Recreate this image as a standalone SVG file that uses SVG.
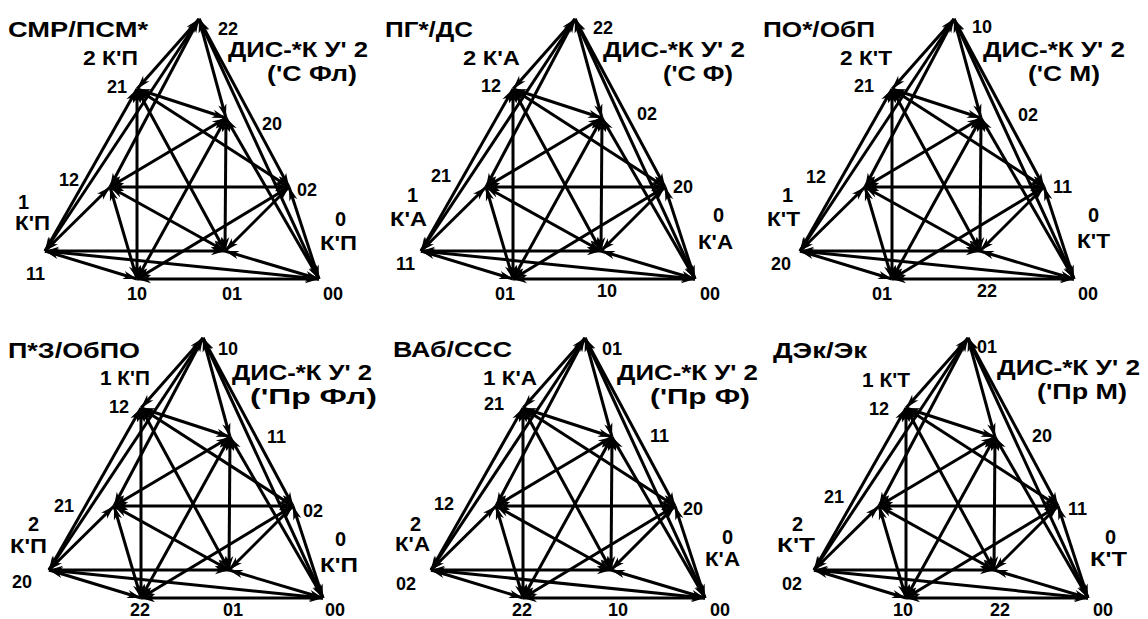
<svg xmlns="http://www.w3.org/2000/svg" xmlns:xlink="http://www.w3.org/1999/xlink" width="1148" height="619" viewBox="0 0 1148 619">
<style>
text{font-family:"Liberation Sans",Arial,sans-serif;font-weight:bold;fill:#000}
.t{font-size:22px}
.k{font-size:20px}
.n{font-size:18px}
.e{stroke:#000;stroke-width:3;fill:none;marker-start:url(#ah);marker-end:url(#ah)}
</style>
<defs>
<marker id="ah" viewBox="-15 -5 16 10" refX="0" refY="0" markerWidth="16" markerHeight="10" markerUnits="userSpaceOnUse" orient="auto-start-reverse" overflow="visible">
<path d="M0,0 L-14,-4.2 L-10,0 L-14,4.2 Z" fill="#000"/>
</marker>
<g id="graph">
<line class="e" x1="199" y1="19" x2="137" y2="89"/>
<line class="e" x1="199" y1="19" x2="226" y2="118"/>
<line class="e" x1="199" y1="19" x2="110" y2="187"/>
<line class="e" x1="199" y1="19" x2="289" y2="187"/>
<line class="e" x1="199" y1="19" x2="45" y2="251"/>
<line class="e" x1="199" y1="19" x2="319" y2="279"/>
<line class="e" x1="137" y1="89" x2="226" y2="118"/>
<line class="e" x1="137" y1="89" x2="289" y2="187"/>
<line class="e" x1="137" y1="89" x2="45" y2="251"/>
<line class="e" x1="137" y1="89" x2="225" y2="251"/>
<line class="e" x1="137" y1="89" x2="137" y2="279"/>
<line class="e" x1="226" y1="118" x2="110" y2="187"/>
<line class="e" x1="226" y1="118" x2="225" y2="251"/>
<line class="e" x1="226" y1="118" x2="137" y2="279"/>
<line class="e" x1="226" y1="118" x2="319" y2="279"/>
<line class="e" x1="110" y1="187" x2="289" y2="187"/>
<line class="e" x1="110" y1="187" x2="45" y2="251"/>
<line class="e" x1="110" y1="187" x2="225" y2="251"/>
<line class="e" x1="110" y1="187" x2="137" y2="279"/>
<line class="e" x1="289" y1="187" x2="225" y2="251"/>
<line class="e" x1="289" y1="187" x2="137" y2="279"/>
<line class="e" x1="289" y1="187" x2="319" y2="279"/>
<line class="e" x1="45" y1="251" x2="225" y2="251"/>
<line class="e" x1="45" y1="251" x2="137" y2="279"/>
<line class="e" x1="45" y1="251" x2="319" y2="279"/>
<line class="e" x1="225" y1="251" x2="319" y2="279"/>
<line class="e" x1="137" y1="279" x2="319" y2="279"/>
</g>
</defs>
<rect width="1148" height="619" fill="#fff"/>
<g id="connectors">
<use xlink:href="#graph" href="#graph"/>
<use xlink:href="#graph" href="#graph" transform="translate(376,0)"/>
<use xlink:href="#graph" href="#graph" transform="translate(755,0)"/>
<use xlink:href="#graph" href="#graph" transform="translate(4,319)"/>
<use xlink:href="#graph" href="#graph" transform="translate(386,319)"/>
<use xlink:href="#graph" href="#graph" transform="translate(769,319)"/>
</g>

<g id="d1">
<text class="t" x="8" y="37" textLength="140" lengthAdjust="spacingAndGlyphs">СМР/ПСМ*</text>
<text class="k" x="83" y="65" textLength="55" lengthAdjust="spacingAndGlyphs">2 К'П</text>
<text class="t" x="228" y="57" textLength="140" lengthAdjust="spacingAndGlyphs">ДИС-*К У' 2</text>
<text class="t" x="267" y="81" textLength="90" lengthAdjust="spacingAndGlyphs">('С Фл)</text>
<text class="k" x="18" y="209">1</text>
<text class="k" x="15" y="230" textLength="35" lengthAdjust="spacingAndGlyphs">К'П</text>
<text class="k" x="335" y="226">0</text>
<text class="k" x="320" y="250" textLength="37" lengthAdjust="spacingAndGlyphs">К'П</text>
<g id="d1-n22"><text class="n" x="218" y="35">22</text></g>
<g id="d1-n21"><text class="n" x="107" y="93">21</text></g>
<g id="d1-n20"><text class="n" x="262" y="130">20</text></g>
<g id="d1-n12"><text class="n" x="59" y="186">12</text></g>
<g id="d1-n02"><text class="n" x="297" y="196">02</text></g>
<g id="d1-n11"><text class="n" x="26" y="280">11</text></g>
<g id="d1-n10"><text class="n" x="127" y="300">10</text></g>
<g id="d1-n01"><text class="n" x="222" y="300">01</text></g>
<g id="d1-n00"><text class="n" x="323" y="300">00</text></g>
</g>

<g id="d2">
<text class="t" x="385" y="37" textLength="88" lengthAdjust="spacingAndGlyphs">ПГ*/ДС</text>
<text class="k" x="463" y="65" textLength="57" lengthAdjust="spacingAndGlyphs">2  К'А</text>
<text class="t" x="603" y="57" textLength="142" lengthAdjust="spacingAndGlyphs">ДИС-*К У' 2</text>
<text class="t" x="663" y="81" textLength="70" lengthAdjust="spacingAndGlyphs">('С Ф)</text>
<text class="k" x="407" y="202">1</text>
<text class="k" x="390" y="226" textLength="37" lengthAdjust="spacingAndGlyphs">К'А</text>
<text class="k" x="713" y="222">0</text>
<text class="k" x="698" y="249" textLength="35" lengthAdjust="spacingAndGlyphs">К'А</text>
<g id="d2-n22"><text class="n" x="593" y="34">22</text></g>
<g id="d2-n12"><text class="n" x="481" y="92">12</text></g>
<g id="d2-n02"><text class="n" x="637" y="120">02</text></g>
<g id="d2-n21"><text class="n" x="431" y="182">21</text></g>
<g id="d2-n20"><text class="n" x="673" y="193">20</text></g>
<g id="d2-n11"><text class="n" x="396" y="270">11</text></g>
<g id="d2-n01"><text class="n" x="495" y="300">01</text></g>
<g id="d2-n10"><text class="n" x="597" y="297">10</text></g>
<g id="d2-n00"><text class="n" x="700" y="300">00</text></g>
</g>

<g id="d3">
<text class="t" x="763" y="37" textLength="112" lengthAdjust="spacingAndGlyphs">ПО*/ОбП</text>
<text class="k" x="840" y="65" textLength="52" lengthAdjust="spacingAndGlyphs">2 К'Т</text>
<text class="t" x="983" y="57" textLength="142" lengthAdjust="spacingAndGlyphs">ДИС-*К У' 2</text>
<text class="t" x="1028" y="81" textLength="72" lengthAdjust="spacingAndGlyphs">('С М)</text>
<text class="k" x="782" y="202">1</text>
<text class="k" x="767" y="226" textLength="33" lengthAdjust="spacingAndGlyphs">К'Т</text>
<text class="k" x="1088" y="222">0</text>
<text class="k" x="1077" y="248" textLength="33" lengthAdjust="spacingAndGlyphs">К'Т</text>
<g id="d3-n10"><text class="n" x="972" y="33">10</text></g>
<g id="d3-n21"><text class="n" x="854" y="92">21</text></g>
<g id="d3-n02"><text class="n" x="1018" y="121">02</text></g>
<g id="d3-n12"><text class="n" x="806" y="183">12</text></g>
<g id="d3-n11"><text class="n" x="1053" y="193">11</text></g>
<g id="d3-n20"><text class="n" x="771" y="270">20</text></g>
<g id="d3-n01"><text class="n" x="872" y="300">01</text></g>
<g id="d3-n22"><text class="n" x="977" y="297">22</text></g>
<g id="d3-n00"><text class="n" x="1078" y="300">00</text></g>
</g>

<g id="d4">
<text class="t" x="8" y="358" textLength="132" lengthAdjust="spacingAndGlyphs">П*З/ОбПО</text>
<text class="k" x="100" y="385" textLength="50" lengthAdjust="spacingAndGlyphs">1 К'П</text>
<text class="t" x="232" y="380" textLength="140" lengthAdjust="spacingAndGlyphs">ДИС-*К У' 2</text>
<text class="t" x="250" y="404" textLength="127" lengthAdjust="spacingAndGlyphs">('Пр Фл)</text>
<text class="k" x="28" y="531">2</text>
<text class="k" x="10" y="553" textLength="37" lengthAdjust="spacingAndGlyphs">К'П</text>
<text class="k" x="335" y="546">0</text>
<text class="k" x="320" y="572" textLength="38" lengthAdjust="spacingAndGlyphs">К'П</text>
<g id="d4-n10"><text class="n" x="218" y="355">10</text></g>
<g id="d4-n12"><text class="n" x="109" y="413">12</text></g>
<g id="d4-n11"><text class="n" x="267" y="443">11</text></g>
<g id="d4-n21"><text class="n" x="54" y="512">21</text></g>
<g id="d4-n02"><text class="n" x="303" y="517">02</text></g>
<g id="d4-n20"><text class="n" x="12" y="588">20</text></g>
<g id="d4-n22"><text class="n" x="130" y="616">22</text></g>
<g id="d4-n01"><text class="n" x="223" y="616">01</text></g>
<g id="d4-n00"><text class="n" x="325" y="616">00</text></g>
</g>

<g id="d5">
<text class="t" x="393" y="357" textLength="119" lengthAdjust="spacingAndGlyphs">ВАб/ССС</text>
<text class="k" x="483" y="385" textLength="54" lengthAdjust="spacingAndGlyphs">1 К'А</text>
<text class="t" x="617" y="380" textLength="141" lengthAdjust="spacingAndGlyphs">ДИС-*К У' 2</text>
<text class="t" x="650" y="404" textLength="100" lengthAdjust="spacingAndGlyphs">('Пр Ф)</text>
<text class="k" x="410" y="531">2</text>
<text class="k" x="395" y="551" textLength="35" lengthAdjust="spacingAndGlyphs">К'А</text>
<text class="k" x="722" y="544">0</text>
<text class="k" x="705" y="566" textLength="35" lengthAdjust="spacingAndGlyphs">К'А</text>
<g id="d5-n01"><text class="n" x="602" y="355">01</text></g>
<g id="d5-n21"><text class="n" x="484" y="410">21</text></g>
<g id="d5-n11"><text class="n" x="650" y="442">11</text></g>
<g id="d5-n12"><text class="n" x="434" y="510">12</text></g>
<g id="d5-n20"><text class="n" x="683" y="515">20</text></g>
<g id="d5-n02"><text class="n" x="396" y="590">02</text></g>
<g id="d5-n22"><text class="n" x="512" y="616">22</text></g>
<g id="d5-n10"><text class="n" x="608" y="616">10</text></g>
<g id="d5-n00"><text class="n" x="710" y="616">00</text></g>
</g>

<g id="d6">
<text class="t" x="773" y="358" textLength="94" lengthAdjust="spacingAndGlyphs">ДЭк/Эк</text>
<text class="k" x="862" y="387" textLength="48" lengthAdjust="spacingAndGlyphs">1 К'Т</text>
<text class="t" x="997" y="375" textLength="143" lengthAdjust="spacingAndGlyphs">ДИС-*К У' 2</text>
<text class="t" x="1037" y="399" textLength="90" lengthAdjust="spacingAndGlyphs">('Пр М)</text>
<text class="k" x="792" y="531">2</text>
<text class="k" x="777" y="552" textLength="38" lengthAdjust="spacingAndGlyphs">К'Т</text>
<text class="k" x="1105" y="544">0</text>
<text class="k" x="1090" y="566" textLength="37" lengthAdjust="spacingAndGlyphs">К'Т</text>
<g id="d6-n01"><text class="n" x="977" y="353">01</text></g>
<g id="d6-n12"><text class="n" x="869" y="415">12</text></g>
<g id="d6-n20"><text class="n" x="1032" y="442">20</text></g>
<g id="d6-n21"><text class="n" x="824" y="503">21</text></g>
<g id="d6-n11"><text class="n" x="1068" y="515">11</text></g>
<g id="d6-n02"><text class="n" x="782" y="590">02</text></g>
<g id="d6-n10"><text class="n" x="893" y="616">10</text></g>
<g id="d6-n22"><text class="n" x="990" y="616">22</text></g>
<g id="d6-n00"><text class="n" x="1093" y="616">00</text></g>
</g>
</svg>
